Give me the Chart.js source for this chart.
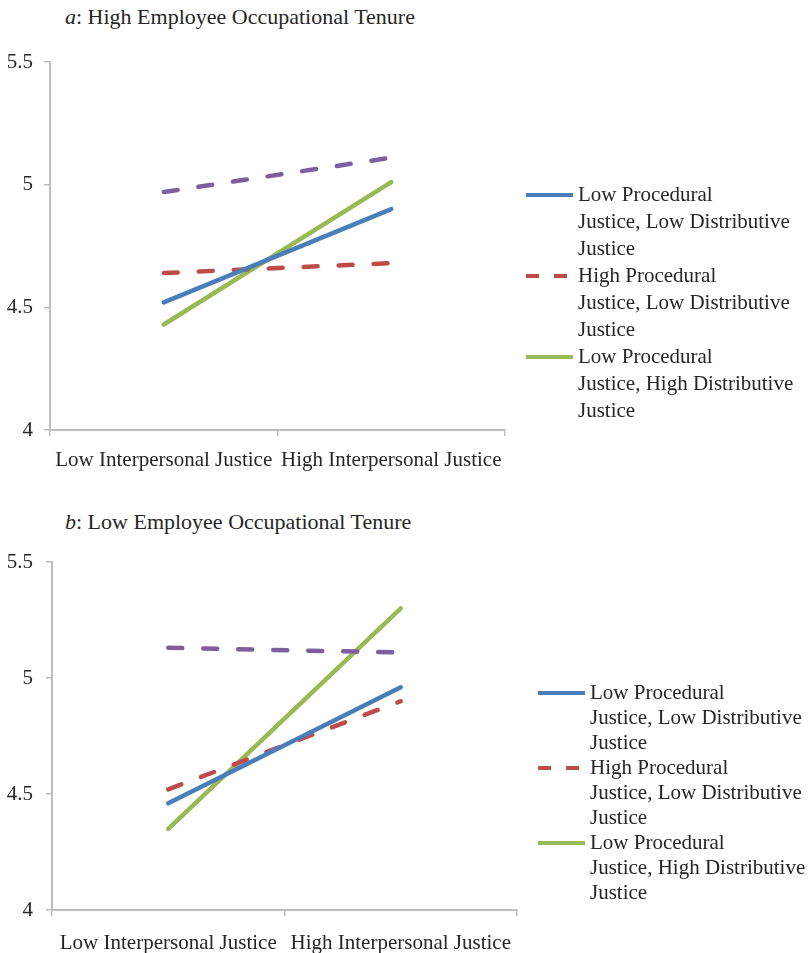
<!DOCTYPE html>
<html>
<head>
<meta charset="utf-8">
<script src="https://cdn.jsdelivr.net/npm/chart.js@4/dist/chart.umd.min.js"></script>
<style>
  body { margin: 0; background: #fff; width: 810px; height: 953px; position: relative; overflow: hidden;
         font-family: "Liberation Serif", "Times New Roman", serif; color: #262626; }
  .title { position: absolute; font-size: 22px; line-height: 26px; white-space: nowrap; }
  .panel { position: absolute; left: 0; width: 810px; }
</style>
</head>
<body>
<div class="title" style="left:65px;top:4px;"><i>a</i>: High Employee Occupational Tenure</div>
<div class="panel" style="top:0;height:478px;"><canvas id="chartA"></canvas></div>

<div class="title" style="left:65px;top:509px;"><i>b</i>: Low Employee Occupational Tenure</div>
<div class="panel" style="top:478px;height:475px;"><canvas id="chartB"></canvas></div>

<script>
// categories on the x axis
const categories = ['Low Interpersonal Justice', 'High Interpersonal Justice'];
const yTickLabels = ['4', '4.5', '5', '5.5'];

// series names (split into the lines shown in the legend)
const nameLowPLowD = ['Low Procedural', 'Justice, Low Distributive', 'Justice'];
const nameHighPLowD = ['High Procedural', 'Justice, Low Distributive', 'Justice'];
const nameLowPHighD = ['Low Procedural', 'Justice, High Distributive', 'Justice'];
const nameHighPHighD = ['High Procedural', 'Justice, High Distributive', 'Justice'];

// a: high occupational tenure
const highTenureLowPLowD = [4.52, 4.90];
const highTenureHighPLowD = [4.64, 4.68];
const highTenureLowPHighD = [4.43, 5.01];
const highTenureHighPHighD = [4.97, 5.11];

// b: low occupational tenure
const lowTenureLowPLowD = [4.46, 4.96];
const lowTenureHighPLowD = [4.52, 4.90];
const lowTenureLowPHighD = [4.35, 5.30];
const lowTenureHighPHighD = [5.13, 5.11];

const blue = '#4a7ebb';
const red = '#be4b48';
const green = '#98b954';
const purple = '#7d5fa0';
const axisColor = '#bdbdbd';
const textColor = '#262626';
const fontFamily = '"Liberation Serif", "Times New Roman", serif';
const dash = [14, 21];

function makeDatasets(lowLow, highLow, lowHigh, highHigh) {
    return [
        { label: nameHighPHighD, data: highHigh, borderColor: purple, borderDash: dash, inLegend: false },
        { label: nameLowPLowD, data: lowLow, borderColor: blue, borderDash: [], inLegend: true },
        { label: nameHighPLowD, data: highLow, borderColor: red, borderDash: dash, inLegend: true },
        { label: nameLowPHighD, data: lowHigh, borderColor: green, borderDash: [], inLegend: true }
    ].map(d => Object.assign(d, {
        borderWidth: 4.5,
        borderCapStyle: 'round',
        pointRadius: 0,
        pointHoverRadius: 0,
        fill: false,
        tension: 0
    }));
}

// legend on the right, drawn into the canvas (wrapped series names, purple series left out)
const sideLegend = {
    id: 'sideLegend',
    afterDraw(chart, args, opts) {
        const ctx = chart.ctx;
        ctx.save();
        ctx.font = '21px ' + fontFamily;
        ctx.textBaseline = 'middle';
        ctx.textAlign = 'left';
        let row = 0;
        chart.data.datasets.filter(d => d.inLegend).forEach(d => {
            const y = opts.top + row * opts.lineHeight;
            ctx.strokeStyle = d.borderColor;
            ctx.lineWidth = 4;
            ctx.lineCap = 'butt';
            ctx.setLineDash(d.borderDash.length ? [13, 15] : []);
            ctx.beginPath();
            ctx.moveTo(opts.left, y);
            ctx.lineTo(opts.left + 47, y);
            ctx.stroke();
            ctx.setLineDash([]);
            ctx.fillStyle = textColor;
            d.label.forEach((line, k) => {
                ctx.fillText(line, opts.left + 52, y + k * opts.lineHeight);
            });
            row += d.label.length;
        });
        ctx.restore();
    }
};

function makeChart(canvasId, datasets, box) {
    const font = { family: fontFamily, size: 21 };
    return new Chart(document.getElementById(canvasId), {
        type: 'line',
        data: { labels: categories, datasets: datasets },
        plugins: [sideLegend],
        options: {
            responsive: true,
            maintainAspectRatio: false,
            animation: false,
            layout: { padding: { top: box.top, right: box.right, left: 0, bottom: 0 } },
            plugins: {
                legend: { display: false },
                title: { display: false },
                tooltip: { enabled: false },
                sideLegend: box.legend
            },
            scales: {
                x: {
                    offset: true,
                    grid: { display: true, offset: true, drawOnChartArea: false, drawTicks: true, tickLength: 6, color: axisColor, lineWidth: 1.5 },
                    border: { display: true, color: axisColor, width: 2 },
                    ticks: { color: textColor, font: font, padding: box.xPad, maxRotation: 0, autoSkip: false },
                    afterFit: s => { s.height = box.xHeight; }
                },
                y: {
                    min: 4,
                    max: 5.5,
                    grid: { display: true, drawOnChartArea: false, drawTicks: true, tickLength: 6, color: axisColor, lineWidth: 1.5 },
                    border: { display: true, color: axisColor, width: 2 },
                    ticks: {
                        stepSize: 0.5,
                        color: textColor,
                        font: font,
                        padding: box.yPad,
                        callback: (v, i) => yTickLabels[i]
                    },
                    afterFit: s => { s.width = box.yWidth; }
                }
            }
        }
    });
}

makeChart('chartA',
    makeDatasets(highTenureLowPLowD, highTenureHighPLowD, highTenureLowPHighD, highTenureHighPHighD),
    { top: 62, right: 305, xHeight: 48, yWidth: 50, xPad: 12, yPad: 11,
      legend: { left: 526, top: 195, lineHeight: 27 } });
makeChart('chartB',
    makeDatasets(lowTenureLowPLowD, lowTenureHighPLowD, lowTenureLowPHighD, lowTenureHighPHighD),
    { top: 84, right: 293, xHeight: 43, yWidth: 52, xPad: 15, yPad: 13,
      legend: { left: 538, top: 215, lineHeight: 25 } });
</script>
</body>
</html>
